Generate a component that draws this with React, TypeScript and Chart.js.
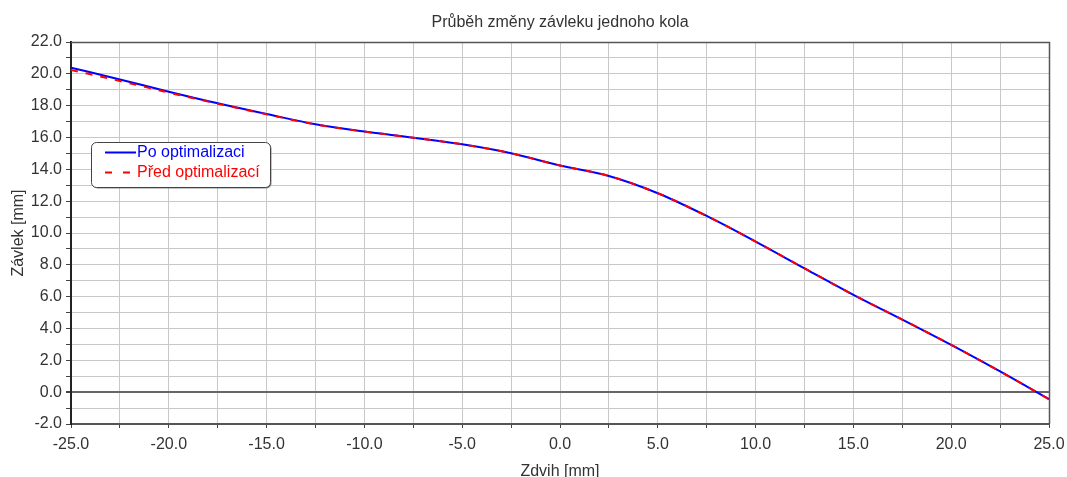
import React, { useEffect, useRef } from "react";
import { Chart, registerables } from "chart.js";

Chart.register(...registerables);

const TITLE = "Průběh změny závleku jednoho kola";
const X_TITLE = "Zdvih [mm]";
const Y_TITLE = "Závlek [mm]";

const zdvih = [-25, -22.5, -20, -17.5, -15, -12.5, -10, -7.5, -5, -2.5, 0, 2.5, 5, 7.5, 10, 12.5, 15, 17.5, 20, 22.5, 25];
const poOptimalizaci = [20.39, 19.65, 18.88, 18.15, 17.48, 16.83, 16.37, 15.99, 15.57, 15.01, 14.24, 13.58, 12.5, 11.07, 9.46, 7.78, 6.11, 4.56, 2.97, 1.3, -0.44];
const predOptimalizaci = [20.25, 19.55, 18.82, 18.12, 17.46, 16.82, 16.37, 15.99, 15.57, 15.01, 14.24, 13.58, 12.5, 11.07, 9.46, 7.78, 6.11, 4.56, 2.97, 1.3, -0.44];

const FONT = "'Liberation Sans', Arial, sans-serif";
const TEXT = "#333333";
const GRID = "#c8c8c8";
const AXIS = "#444444";

const frameAndTitle = {
  id: "frameAndTitle",
  beforeDatasetsDraw(chart: any) {
    const { ctx, chartArea } = chart;
    ctx.save();
    ctx.strokeStyle = "#555555";
    ctx.lineWidth = 1.5;
    ctx.beginPath();
    ctx.moveTo(chartArea.left, chartArea.top + 0.5);
    ctx.lineTo(chartArea.right + 0.5, chartArea.top + 0.5);
    ctx.lineTo(chartArea.right + 0.5, chartArea.bottom);
    ctx.stroke();
    ctx.restore();
  },
  afterDraw(chart: any) {
    const { ctx, chartArea } = chart;
    ctx.save();
    ctx.font = `16px ${FONT}`;
    ctx.fillStyle = TEXT;
    ctx.textAlign = "center";
    ctx.textBaseline = "middle";
    ctx.fillText(TITLE, (chartArea.left + chartArea.right) / 2, 23);
    ctx.restore();
  },
};

const boxLegend = {
  id: "boxLegend",
  afterDraw(chart: any) {
    const { ctx } = chart;
    const x = 91, y = 142, w = 179, h = 45, r = 5;
    ctx.save();
    ctx.fillStyle = "#888888";
    ctx.beginPath();
    ctx.roundRect(x + 1.5, y + 1.5, w, h, r);
    ctx.fill();
    ctx.fillStyle = "#ffffff";
    ctx.strokeStyle = AXIS;
    ctx.lineWidth = 1;
    ctx.beginPath();
    ctx.roundRect(x + 0.5, y + 0.5, w, h, r);
    ctx.fill();
    ctx.stroke();
    chart.data.datasets.forEach((ds: any, i: number) => {
      const cy = y + 10.5 + i * 20;
      ctx.strokeStyle = ds.borderColor;
      ctx.lineWidth = 2;
      ctx.setLineDash(ds.borderDash ? [7, 11] : []);
      ctx.beginPath();
      ctx.moveTo(105, cy);
      ctx.lineTo(136, cy);
      ctx.stroke();
      ctx.setLineDash([]);
      ctx.fillStyle = ds.borderColor;
      ctx.font = `16px ${FONT}`;
      ctx.textAlign = "left";
      ctx.textBaseline = "middle";
      ctx.fillText(ds.label, 137, cy);
    });
    ctx.restore();
  },
};

export default function App() {
  const ref = useRef<HTMLCanvasElement>(null);
  useEffect(() => {
    if (!ref.current) return;
    const chart = new Chart(ref.current, {
      type: "line",
      data: {
        datasets: [
          {
            label: "Po optimalizaci",
            data: zdvih.map((x, i) => ({ x, y: poOptimalizaci[i] })),
            borderColor: "#0000ff",
            borderWidth: 2,
            pointRadius: 0,
            cubicInterpolationMode: "monotone",
            order: 1,
          },
          {
            label: "Před optimalizací",
            data: zdvih.map((x, i) => ({ x, y: predOptimalizaci[i] })),
            borderColor: "#ff0000",
            borderWidth: 2,
            borderDash: [7, 8],
            pointRadius: 0,
            cubicInterpolationMode: "monotone",
            order: 0,
          },
        ],
      },
      options: {
        animation: false,
        responsive: false,
        layout: { padding: { top: 42, right: 18, left: 0, bottom: 0 } },
        plugins: { legend: { display: false }, title: { display: false }, tooltip: { enabled: false } },
        scales: {
          x: {
            type: "linear",
            min: -25,
            max: 25,
            afterFit: (s: any) => {
              s.height = 53;
              s.paddingRight = 0;
              s.paddingLeft = 0;
            },
            ticks: {
              stepSize: 2.5,
              autoSkip: false,
              maxRotation: 0,
              color: TEXT,
              font: { size: 16, family: FONT },
              padding: 7,
              callback: (v: any) => (Math.abs(v % 5) < 1e-9 ? Number(v).toFixed(1) : ""),
            },
            grid: { color: GRID, tickColor: AXIS, tickLength: 4, lineWidth: 1 },
            border: { color: "#555555", width: 2 },
            title: {
              display: true,
              text: X_TITLE,
              color: TEXT,
              font: { size: 16, family: FONT, lineHeight: "11px" },
              padding: 0,
            },
          },
          y: {
            type: "linear",
            min: -2,
            max: 22,
            afterFit: (s: any) => { s.width = 71; },
            ticks: {
              stepSize: 1,
              autoSkip: false,
              color: TEXT,
              font: { size: 16, family: FONT },
              padding: 4,
              callback: (v: any) => (Math.abs(v % 2) < 1e-9 ? Number(v).toFixed(1) : ""),
            },
            grid: {
              color: (c: any) => (c.tick && c.tick.value === 0 ? "#666666" : GRID),
              lineWidth: (c: any) => (c.tick && c.tick.value === 0 ? 2 : 1),
              tickColor: AXIS,
              tickLength: 5,
            },
            border: { color: "#222222", width: 2 },
            title: {
              display: true,
              text: Y_TITLE,
              color: TEXT,
              font: { size: 16, family: FONT, lineHeight: "16px" },
              padding: { top: 11, bottom: 0 },
            },
          },
        },
      },
      plugins: [frameAndTitle, boxLegend],
    } as any);
    return () => chart.destroy();
  }, []);
  return (
    <div style={{ position: "fixed", left: 0, top: 0, width: 1067, height: 477, background: "#fff" }}>
      <canvas ref={ref} width={1067} height={477} style={{ display: "block" }} />
    </div>
  );
}
